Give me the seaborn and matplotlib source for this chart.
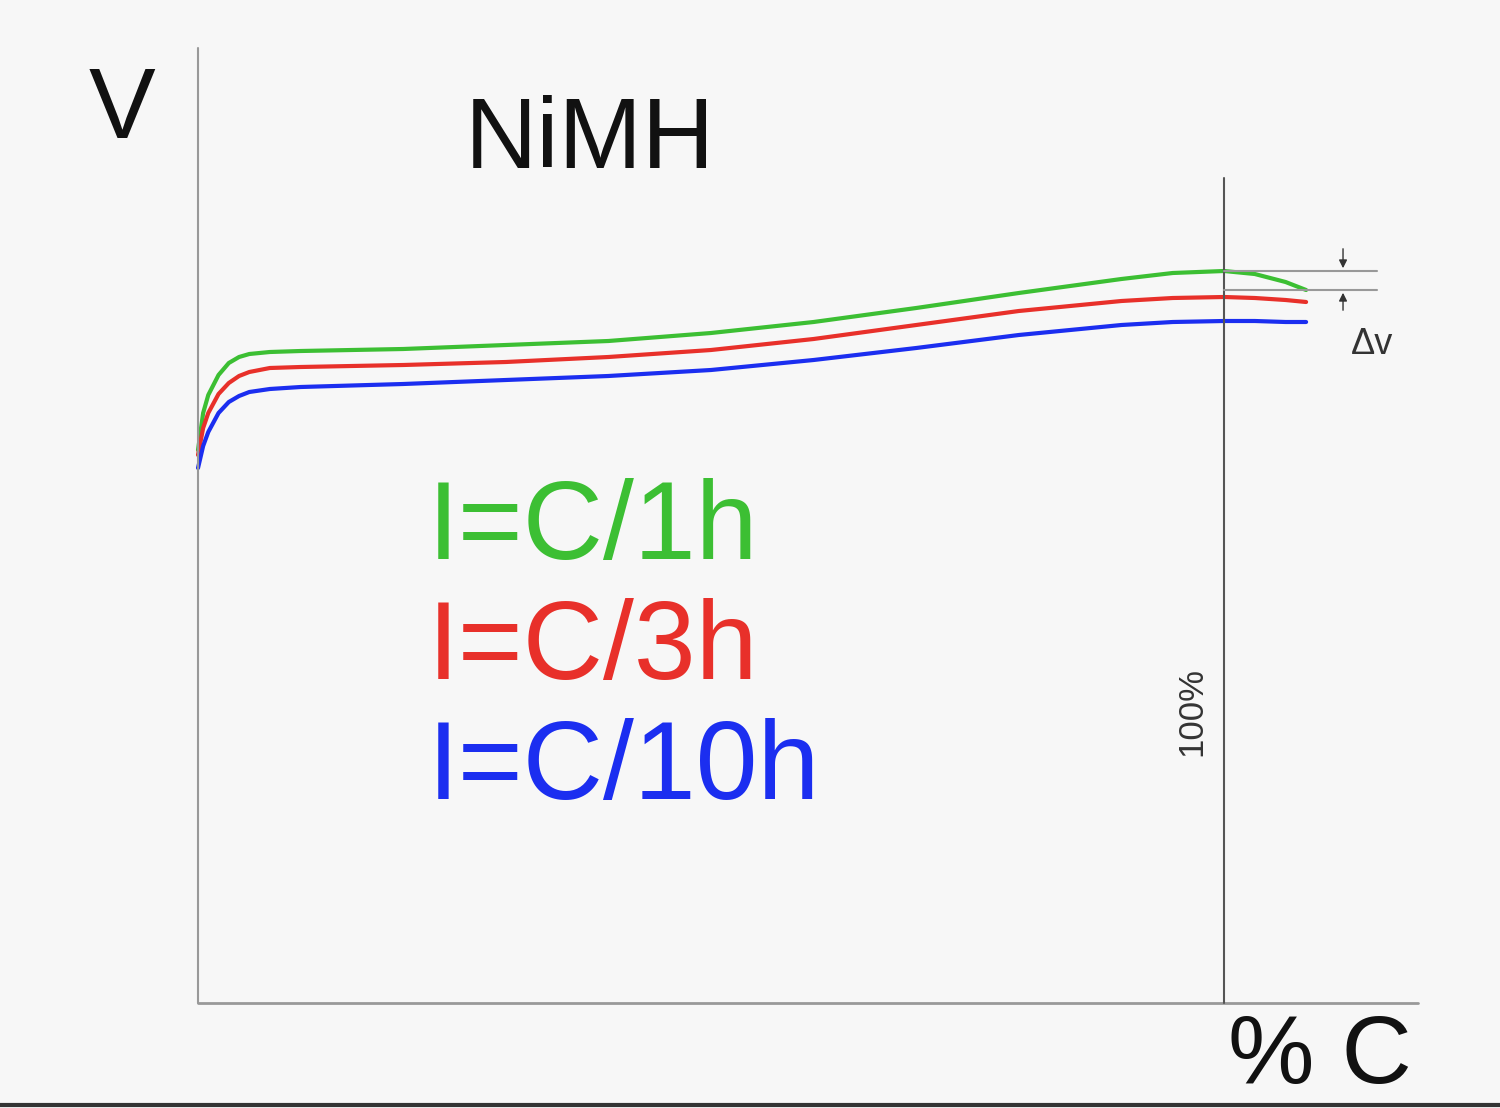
import matplotlib
matplotlib.use("Agg")
import matplotlib.pyplot as plt
import seaborn as sns
import pandas as pd

charge = [0, 0.5, 1, 2, 3, 4, 5, 7, 10, 20, 30, 40, 50, 60, 70, 80, 90, 95, 100, 103, 106, 108]
v_c1 = [553, 590, 608, 628, 640, 646, 649, 651, 652, 654, 658, 662, 670, 681, 695, 710, 724, 730, 732, 729, 721, 713]
v_c3 = [548, 575, 590, 609, 620, 627, 631, 635, 636, 638, 641, 646, 653, 664, 678, 692, 702, 705, 706, 705, 703, 701]
v_c10 = [535, 557, 571, 590, 601, 607, 611, 614, 616, 619, 623, 627, 633, 643, 655, 668, 678, 681, 682, 682, 681, 681]
labels = ["I=C/1h", "I=C/3h", "I=C/10h"]
colors = ["#3cbf33", "#e8302a", "#1b2ef0"]

rows = []
for lab, vals in zip(labels, [v_c1, v_c3, v_c10]):
    for c, v in zip(charge, vals):
        rows.append({"charge": c, "V": v, "series": lab})
df = pd.DataFrame(rows)

sns.set_style("white")
plt.rcParams['font.family'] = ['Liberation Sans', 'DejaVu Sans']
fig = plt.figure(figsize=(15, 11.08), dpi=100, facecolor="#f7f7f7")
ax = fig.add_axes([0, 0, 1, 1])
ax.set_facecolor("#f7f7f7")
ax.set_xlim(-19.3, 126.9)
ax.set_ylim(-105, 1003)
ax.axis("off")

sns.lineplot(data=df, x="charge", y="V", hue="series", palette=dict(zip(labels, colors)),
             lw=3, legend=False, ax=ax, sort=False)

ax.plot([0, 0], [0, 955], color="#999999", lw=1.5)
ax.plot([0, 118.9], [0, 0], color="#999999", lw=2)
ax.plot([100, 100], [0, 825], color="#555555", lw=1.5)
ax.plot([100, 114.9], [732, 732], color="#999999", lw=1.5)
ax.plot([100, 114.9], [713, 713], color="#999999", lw=1.5)
ax.annotate("", xy=(111.6, 732), xytext=(111.6, 757),
            arrowprops=dict(arrowstyle="-|>", color="#333333", lw=1, mutation_scale=12))
ax.annotate("", xy=(111.6, 713), xytext=(111.6, 690),
            arrowprops=dict(arrowstyle="-|>", color="#333333", lw=1, mutation_scale=12))

fig.text(1372/1500, 1 - 345/1108, "Δv", fontsize=26, ha="center", va="center", color="#333333")
fig.text(122/1500, 1 - 112/1108, "V", fontsize=72, ha="center", va="center", color="#111111")
fig.text(590/1500, 1 - 142/1108, "NiMH", fontsize=72, ha="center", va="center", color="#111111")
for lab, col, py in zip(labels, colors, [530, 650, 770]):
    fig.text(428/1500, 1 - py/1108, lab, fontsize=80, ha="left", va="center", color=col)
fig.text(1192/1500, 1 - 712/1108, "100%", fontsize=25, rotation=90, ha="center", va="center", color="#333333")
fig.text(1320/1500, 1 - 1058/1108, "% C", fontsize=70, ha="center", va="center", color="#111111")
ax.plot([-19.3, 126.9], [-102, -102], color="#333333", lw=3)

fig.savefig("out.png", dpi=100, facecolor=fig.get_facecolor())
